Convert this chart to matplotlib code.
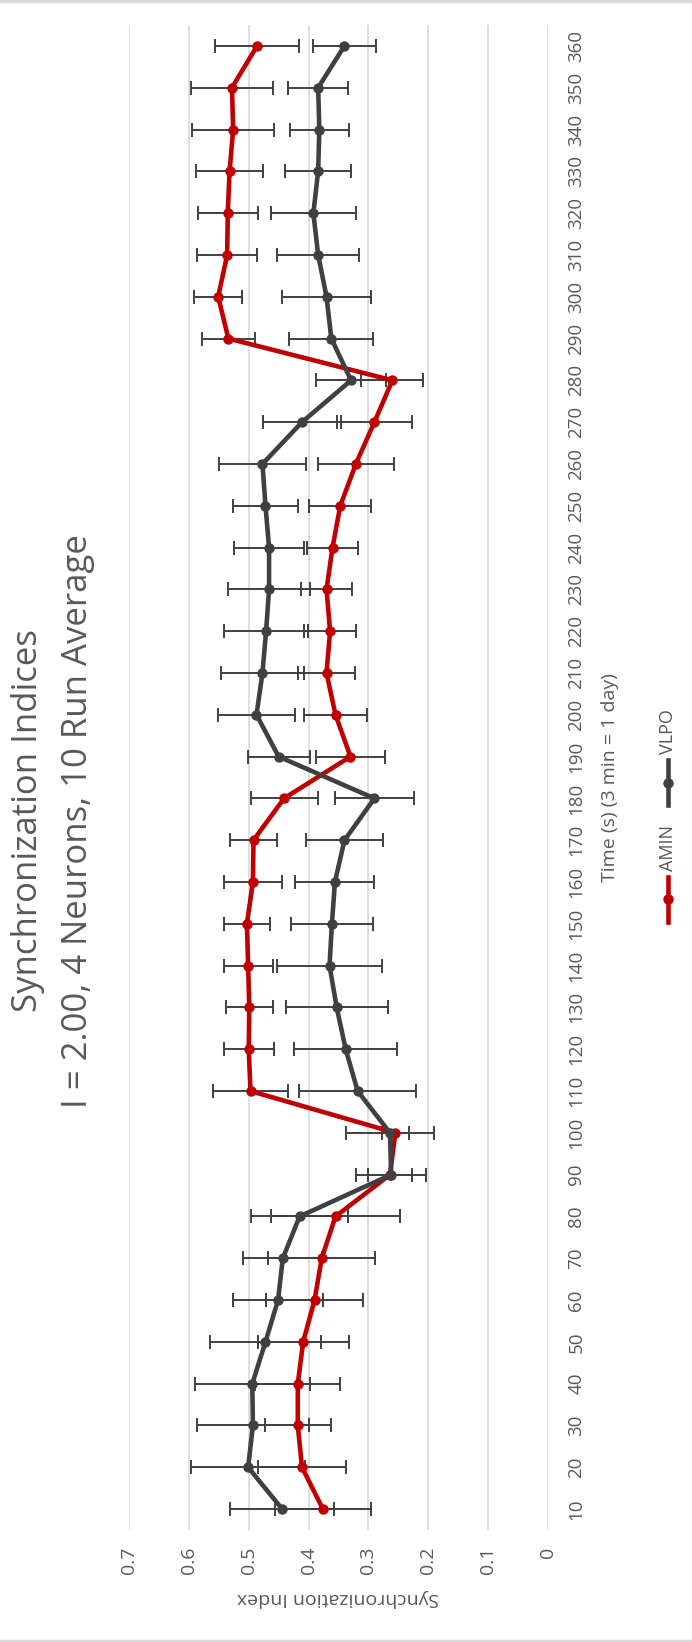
import numpy as np
import matplotlib
matplotlib.use("Agg")
import matplotlib.pyplot as plt
from matplotlib.lines import Line2D

plt.rcParams['font.family'] = ['Open Sans', 'DejaVu Sans']

# ---- data ----
times = [10, 20, 30, 40, 50, 60, 70, 80, 90, 100, 110, 120, 130, 140, 150, 160, 170, 180,
         190, 200, 210, 220, 230, 240, 250, 260, 270, 280, 290, 300, 310, 320, 330, 340, 350, 360]

amin = [0.376, 0.411, 0.418, 0.418, 0.409, 0.390, 0.378, 0.355, 0.264, 0.255,
        0.497, 0.500, 0.499, 0.501, 0.503, 0.493, 0.492, 0.441, 0.330, 0.355,
        0.370, 0.364, 0.370, 0.360, 0.347, 0.321, 0.290, 0.260, 0.534, 0.551,
        0.536, 0.535, 0.532, 0.526, 0.528, 0.486]
amin_err = [0.080, 0.074, 0.055, 0.071, 0.076, 0.081, 0.089, 0.108, 0.036, 0.022,
            0.063, 0.042, 0.039, 0.041, 0.038, 0.048, 0.039, 0.056, 0.057, 0.052,
            0.047, 0.043, 0.043, 0.042, 0.052, 0.064, 0.062, 0.052, 0.044, 0.040,
            0.050, 0.050, 0.056, 0.069, 0.069, 0.070]

vlpo = [0.444, 0.501, 0.493, 0.494, 0.472, 0.451, 0.443, 0.415, 0.262, 0.264,
        0.318, 0.338, 0.353, 0.365, 0.361, 0.356, 0.340, 0.290, 0.450, 0.487,
        0.477, 0.471, 0.466, 0.466, 0.472, 0.477, 0.411, 0.329, 0.362, 0.370,
        0.384, 0.392, 0.384, 0.382, 0.384, 0.340]
vlpo_err = [0.087, 0.095, 0.094, 0.096, 0.092, 0.075, 0.066, 0.081, 0.058, 0.073,
            0.098, 0.086, 0.085, 0.087, 0.069, 0.066, 0.065, 0.066, 0.052, 0.065,
            0.070, 0.070, 0.069, 0.059, 0.055, 0.073, 0.065, 0.058, 0.070, 0.074,
            0.068, 0.071, 0.055, 0.049, 0.050, 0.052]

value_ticks = [0, 0.1, 0.2, 0.3, 0.4, 0.5, 0.6, 0.7]
value_tick_labels = ['0', '0.1', '0.2', '0.3', '0.4', '0.5', '0.6', '0.7']
series_names = ['AMIN', 'VLPO']
title_lines = ['Synchronization Indices', 'I = 2.00, 4 Neurons, 10 Run Average']
x_title = 'Time (s) (3 min = 1 day)'
y_title = 'Synchronization Index'

# ---- style ----
W, H = 692, 1642
RED = '#C00000'
DARK = '#404040'
TXT = '#595959'
GRID = '#D9D9D9'

fig = plt.figure(figsize=(W / 100, H / 100), dpi=100)
fig.patch.set_facecolor('white')

# plot area in pixel coords (chart is rotated 90 degrees CCW)
L, R, T, B = 129, 548, 25, 1530
ax = fig.add_axes([L / W, 1 - B / H, (R - L) / W, (B - T) / H])

idx = np.arange(len(times))
for vals, errs in ((amin, amin_err), (vlpo, vlpo_err)):
    ax.errorbar(vals, idx, xerr=errs, fmt='none', ecolor=DARK, elinewidth=1.4,
                capsize=5, capthick=1.4, zorder=2)
ax.plot(amin, idx, color=RED, lw=3.3, marker='o', ms=6.5, zorder=3,
        solid_joinstyle='round')
ax.plot(vlpo, idx, color=DARK, lw=3.3, marker='o', ms=6.5, zorder=4,
        solid_joinstyle='round')

ax.set_xlim(0.7, 0)
ax.set_ylim(-0.5, len(times) - 0.5)
ax.set_xticks(value_ticks)
ax.set_xticklabels(value_tick_labels, rotation=90, color=TXT, fontsize=14)
ax.yaxis.tick_right()
ax.set_yticks(idx)
ax.set_yticklabels([str(t) for t in times], rotation=90, color=TXT, fontsize=13.5,
                   va='center')
ax.tick_params(axis='x', length=0, pad=12)
ax.tick_params(axis='y', length=0, pad=14)
ax.xaxis.grid(True, color=GRID, lw=1.2, zorder=0)
ax.set_axisbelow(True)
for s in ax.spines.values():
    s.set_visible(False)

# titles
fig.text(28 / W, 1 - 821 / H, title_lines[0], rotation=90, ha='center', va='center',
         fontsize=25, color=TXT)
fig.text(78 / W, 1 - 821 / H, title_lines[1], rotation=90, ha='center', va='center',
         fontsize=25, color=TXT)
fig.text(610 / W, 1 - 778 / H, x_title, rotation=90, ha='center', va='center',
         fontsize=14, color=TXT)
fig.text(338 / W, 1 - 1598 / H, y_title, rotation=180, ha='center', va='center',
         fontsize=14, color=TXT)

# legend (rotated)
leg = [(series_names[0], RED, 877, 922, 848), (series_names[1], DARK, 760, 805, 732)]
for name, col, y0, y1, ty in leg:
    fig.add_artist(Line2D([668 / W, 668 / W], [1 - y0 / H, 1 - y1 / H], color=col, lw=3.3,
                          transform=fig.transFigure))
    fig.add_artist(Line2D([668 / W], [1 - (y0 + y1) / 2 / H], color=col, marker='o', ms=6.5,
                          transform=fig.transFigure))
    fig.text(668 / W, 1 - ty / H, name, rotation=90, ha='center', va='center',
             fontsize=13, color=TXT)

# chart border lines (top / bottom)
for yy in (1.5, H - 1.5):
    fig.add_artist(Line2D([0, 1], [1 - yy / H, 1 - yy / H], color=GRID, lw=2.5,
                          transform=fig.transFigure))

fig.savefig('out.png', dpi=100, facecolor='white')
